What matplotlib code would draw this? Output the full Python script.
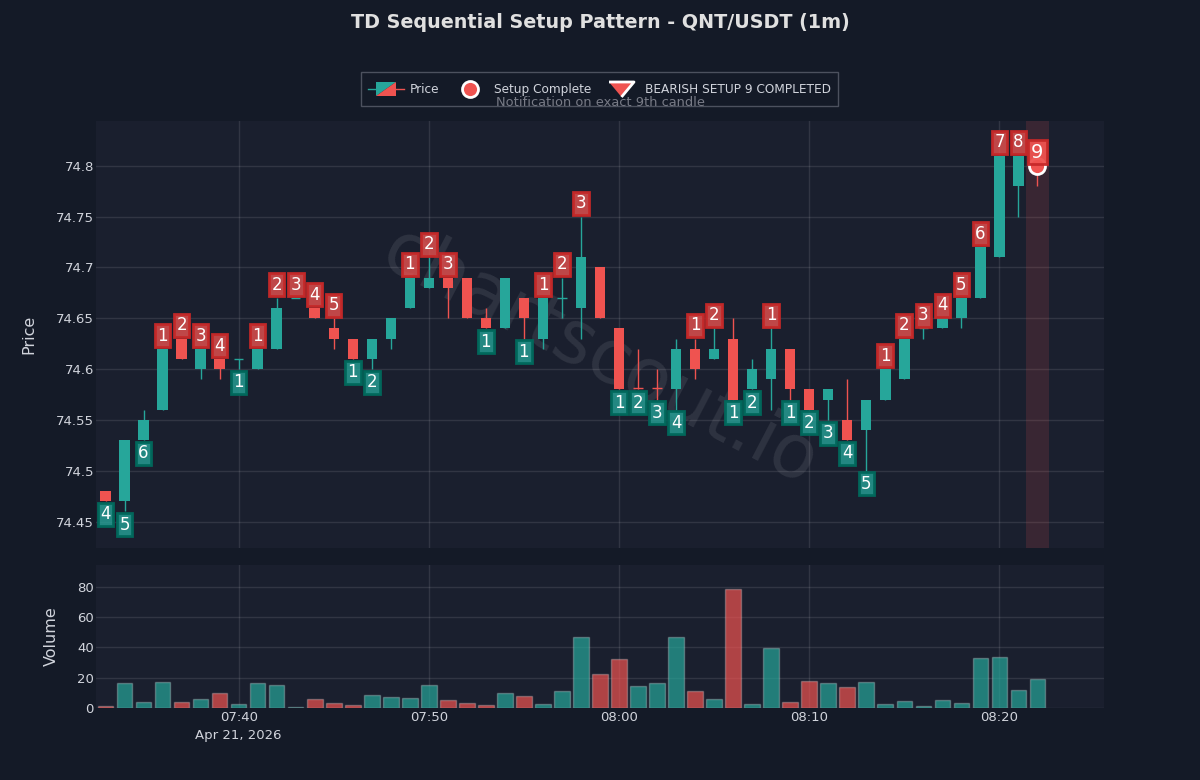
import pandas as pd
import matplotlib
matplotlib.use('Agg')
import matplotlib.pyplot as plt
import matplotlib.dates as mdates
from matplotlib.colors import to_rgba
from matplotlib.legend_handler import HandlerBase, HandlerLine2D
from matplotlib.lines import Line2D
from matplotlib.patches import Polygon, Rectangle

UP = '#26a69a'
DOWN = '#ef5350'
FIG_BG = '#141a27'
AX_BG = '#1a1f2e'
GRID = '#ffffff'

times = pd.date_range('2026-04-21 07:33', periods=50, freq='min')

opens = [74.48, 74.47, 74.53, 74.56, 74.63, 74.60, 74.61, 74.61, 74.60, 74.62,
         74.67, 74.66, 74.64, 74.63, 74.61, 74.63, 74.66, 74.68, 74.69, 74.69,
         74.65, 74.64, 74.67, 74.63, 74.67, 74.66, 74.70, 74.64, 74.581, 74.581,
         74.58, 74.62, 74.61, 74.63, 74.58, 74.59, 74.62, 74.58, 74.57, 74.55,
         74.54, 74.57, 74.59, 74.64, 74.64, 74.65, 74.67, 74.71, 74.78, 74.801]
highs = [74.48, 74.53, 74.56, 74.62, 74.63, 74.62, 74.61, 74.61, 74.62, 74.67,
         74.67, 74.66, 74.65, 74.63, 74.63, 74.65, 74.69, 74.71, 74.69, 74.69,
         74.66, 74.69, 74.67, 74.67, 74.69, 74.75, 74.70, 74.64, 74.62, 74.60,
         74.63, 74.63, 74.64, 74.65, 74.61, 74.64, 74.62, 74.58, 74.58, 74.59,
         74.57, 74.60, 74.63, 74.64, 74.65, 74.67, 74.72, 74.81, 74.81, 74.80]
lows = [74.47, 74.46, 74.53, 74.56, 74.61, 74.59, 74.59, 74.60, 74.60, 74.62,
        74.67, 74.65, 74.62, 74.61, 74.60, 74.62, 74.66, 74.68, 74.65, 74.65,
        74.64, 74.64, 74.63, 74.62, 74.65, 74.63, 74.65, 74.58, 74.58, 74.57,
        74.56, 74.59, 74.61, 74.57, 74.58, 74.56, 74.57, 74.56, 74.55, 74.53,
        74.50, 74.57, 74.59, 74.63, 74.64, 74.64, 74.67, 74.71, 74.75, 74.78]
closes = [74.47, 74.53, 74.55, 74.62, 74.61, 74.62, 74.60, 74.61, 74.62, 74.66,
          74.67, 74.65, 74.63, 74.61, 74.63, 74.65, 74.69, 74.69, 74.68, 74.65,
          74.64, 74.69, 74.65, 74.67, 74.67, 74.71, 74.65, 74.58, 74.58, 74.58,
          74.62, 74.60, 74.62, 74.57, 74.60, 74.62, 74.58, 74.56, 74.58, 74.53,
          74.57, 74.60, 74.63, 74.64, 74.65, 74.67, 74.72, 74.81, 74.81, 74.80]
volumes = [1.3, 16.8, 3.8, 17.2, 4.2, 6.0, 10.0, 2.9, 16.6, 15.0,
           0.4, 5.7, 3.5, 2.2, 8.8, 7.3, 6.6, 15.2, 5.3, 3.3,
           1.8, 10.1, 7.9, 2.4, 11.5, 46.9, 22.7, 32.0, 14.3, 16.5,
           46.7, 11.5, 6.2, 78.6, 2.9, 39.3, 4.2, 17.5, 16.4, 13.9,
           17.2, 2.4, 4.6, 1.5, 5.3, 3.3, 32.7, 33.4, 12.2, 18.8]
# 1 = teal volume bar, 0 = red
vol_up = [0, 1, 1, 1, 0, 1, 0, 1, 1, 1,
          1, 0, 0, 0, 1, 1, 1, 1, 0, 0,
          0, 1, 0, 1, 1, 1, 0, 0, 1, 1,
          1, 0, 1, 0, 1, 1, 0, 0, 1, 0,
          1, 1, 1, 1, 1, 1, 1, 1, 1, 1]

# setup counts, 0 = no label. sides: 1 above the high, -1 below the low
setup_count = [4, 5, 6, 1, 2, 3, 4, 1, 1, 2,
               3, 4, 5, 1, 2, 0, 1, 2, 3, 0,
               1, 0, 1, 1, 2, 3, 0, 1, 2, 3,
               4, 1, 2, 1, 2, 1, 1, 2, 3, 4,
               5, 1, 2, 3, 4, 5, 6, 7, 8, 9]
setup_side = [-1, -1, -1, 1, 1, 1, 1, -1, 1, 1,
              1, 1, 1, -1, -1, 0, 1, 1, 1, 0,
              -1, 0, -1, 1, 1, 1, 0, -1, -1, -1,
              -1, 1, 1, -1, -1, 1, -1, -1, -1, -1,
              -1, 1, 1, 1, 1, 1, 1, 1, 1, 1]

price_ticks = [74.45, 74.5, 74.55, 74.6, 74.65, 74.7, 74.75, 74.8]
price_tick_labels = ['74.45', '74.5', '74.55', '74.6', '74.65', '74.7', '74.75', '74.8']
volume_ticks = [0, 20, 40, 60, 80]

title = 'TD Sequential Setup Pattern - QNT/USDT (1m)'
subtitle = 'Notification on exact 9th candle'
watermark = 'chartscout.io'
date_label = 'Apr 21, 2026'

minute = 1 / 1440

plt.rcParams['font.family'] = ['DejaVu Sans']
fig = plt.figure(figsize=(12, 7.8), dpi=100, facecolor=FIG_BG)
ax = fig.add_axes([96 / 1200, 1 - 548 / 780, 1008 / 1200, 427 / 780])
ax2 = fig.add_axes([96 / 1200, 1 - 708 / 780, 1008 / 1200, 143 / 780], sharex=ax)

x = mdates.date2num(times)

for i in range(len(x)):
    c = UP if closes[i] >= opens[i] else DOWN
    ax.vlines(x[i], lows[i], highs[i], color=c, lw=1, zorder=3)
    top = max(opens[i], closes[i])
    bot = min(opens[i], closes[i])
    if top - bot < 0.002:
        # doji, the body is only a tick
        ax.hlines(top, x[i] - 0.25 * minute, x[i] + 0.25 * minute, color=c, lw=1, zorder=3)
    else:
        ax.bar(x[i], top - bot, bottom=bot, width=0.55 * minute, color=c, zorder=3)

ax.axvspan(x[-1] - 0.6 * minute, x[-1] + 0.6 * minute, color=DOWN, alpha=0.15, lw=0, zorder=2)
ax.plot(x[-1], closes[-1], 'o', ms=11.5, mfc=DOWN, mec='white', mew=2, zorder=5)

red_edge = to_rgba('#c62828', 0.95)
green_edge = to_rgba('#00695c', 0.95)
for i in range(len(x)):
    n = setup_count[i]
    if n == 0:
        continue
    if n == 9:
        box = dict(boxstyle='square,pad=0.15', fc=to_rgba(DOWN, 0.95), ec=red_edge, lw=2)
        ax.annotate(str(n), (x[i], highs[i]), xytext=(0, 3), textcoords='offset points',
                    ha='center', va='bottom', color='white', fontsize=14, bbox=box, zorder=8)
    elif setup_side[i] > 0:
        box = dict(boxstyle='square,pad=0.15', fc=to_rgba(DOWN, 0.78), ec=red_edge, lw=2)
        ax.annotate(str(n), (x[i], highs[i]), xytext=(0, 3), textcoords='offset points',
                    ha='center', va='bottom', color='white', fontsize=12, bbox=box, zorder=7)
    else:
        box = dict(boxstyle='square,pad=0.15', fc=to_rgba(UP, 0.78), ec=green_edge, lw=2)
        ax.annotate(str(n), (x[i], lows[i]), xytext=(0, -3), textcoords='offset points',
                    ha='center', va='top', color='white', fontsize=12, bbox=box, zorder=7)

ax.text(0.5, 0.445, watermark, transform=ax.transAxes, fontsize=53, color='white', alpha=0.09,
        rotation=-27.5, ha='center', va='center', zorder=2.5)

ax2.bar(x, volumes, width=0.82 * minute,
        color=[to_rgba(UP if u else DOWN, 0.7) for u in vol_up],
        edgecolor=(1, 1, 1, 0.25), linewidth=1, zorder=3)

ax.set_xlim(x[0] - 0.5 * minute, x[0] + 52.5 * minute)
ax.set_ylim(74.424, 74.844)
ax2.set_ylim(0, max(volumes) * 1.2)
ax.set_yticks(price_ticks)
ax.set_yticklabels(price_tick_labels)
ax2.set_yticks(volume_ticks)

ax2.xaxis.set_major_locator(mdates.MinuteLocator(byminute=range(0, 60, 10)))
ax2.xaxis.set_major_formatter(mdates.DateFormatter('%H:%M'))
ax.tick_params(axis='x', labelbottom=False)
ax2.annotate(date_label, (x[7], 0), xycoords=('data', 'axes fraction'), xytext=(0, -20),
             textcoords='offset points', ha='center', va='center', color='#d1d4dc', fontsize=9.5)

for a in (ax, ax2):
    a.set_facecolor(AX_BG)
    a.grid(True, color=GRID, alpha=0.1, lw=1)
    a.set_axisbelow(True)
    a.tick_params(length=0, colors='#d1d4dc', labelsize=9.5)
    a.tick_params(axis='y', pad=1.5)
    a.tick_params(axis='x', pad=2.5)
    for s in a.spines.values():
        s.set_visible(False)

ax.set_ylabel('Price', color='#d1d4dc', fontsize=11.5, labelpad=14)
ax2.set_ylabel('Volume', color='#d1d4dc', fontsize=11.5, labelpad=13)

fig.text(0.5, 1 - 22 / 780, title, ha='center', va='center', fontsize=13.8, fontweight='bold', color='#e0e0e0')

# handles sit a little high with a big handleheight
HANDLE_SHIFT = 2.2


class CandleHandler(HandlerBase):
    def create_artists(self, legend, orig, xd, yd, w, h, fontsize, trans):
        mid = (h - yd) / 2 - HANDLE_SHIFT
        x0, x1 = -xd + w * 0.23, -xd + w * 0.77
        y0, y1 = mid - h * 0.33, mid + h * 0.33
        wick1 = Line2D([-xd, x0], [mid, mid], color=UP, lw=1, transform=trans)
        wick2 = Line2D([x1, -xd + w], [mid, mid], color=DOWN, lw=1, transform=trans)
        t1 = Polygon([(x0, y0), (x0, y1), (x1, y1)], fc=UP, ec='none', transform=trans)
        t2 = Polygon([(x0, y0), (x1, y0), (x1, y1)], fc=DOWN, ec='none', transform=trans)
        return [wick1, wick2, t1, t2]


class MarkerHandler(HandlerLine2D):
    def create_artists(self, legend, orig, xd, yd, w, h, fontsize, trans):
        arts = super().create_artists(legend, orig, xd, yd, w, h, fontsize, trans)
        for a in arts:
            a.set_ydata(a.get_ydata() - HANDLE_SHIFT)
        return arts


handles = [
    Rectangle((0, 0), 1, 1),
    Line2D([], [], ls='', marker='o', ms=11.5, mfc=DOWN, mec='white', mew=2),
    Line2D([], [], ls='', marker=[(-1, 0.6), (1, 0.6), (0, -0.6)], ms=18, mfc=DOWN, mec='white', mew=2),
]
leg = fig.legend(handles, ['Price', 'Setup Complete', 'BEARISH SETUP 9 COMPLETED'],
                 handler_map={Rectangle: CandleHandler(), Line2D: MarkerHandler()}, ncol=3,
                 loc='center', bbox_to_anchor=(599.5 / 1200, 1 - 89 / 780),
                 fontsize=8.7, facecolor=FIG_BG, edgecolor='#4c515e', labelcolor='#d1d4dc',
                 fancybox=False, framealpha=1, columnspacing=1.0, handlelength=3.0,
                 handletextpad=0.5, handleheight=2.2, borderpad=0.55)
leg.get_frame().set_linewidth(1)

fig.text(0.5, 1 - 103 / 780, subtitle, ha='center', va='center', fontsize=9.4, color='#787b86', zorder=10)

fig.savefig('out.png', dpi=100, facecolor=FIG_BG)
